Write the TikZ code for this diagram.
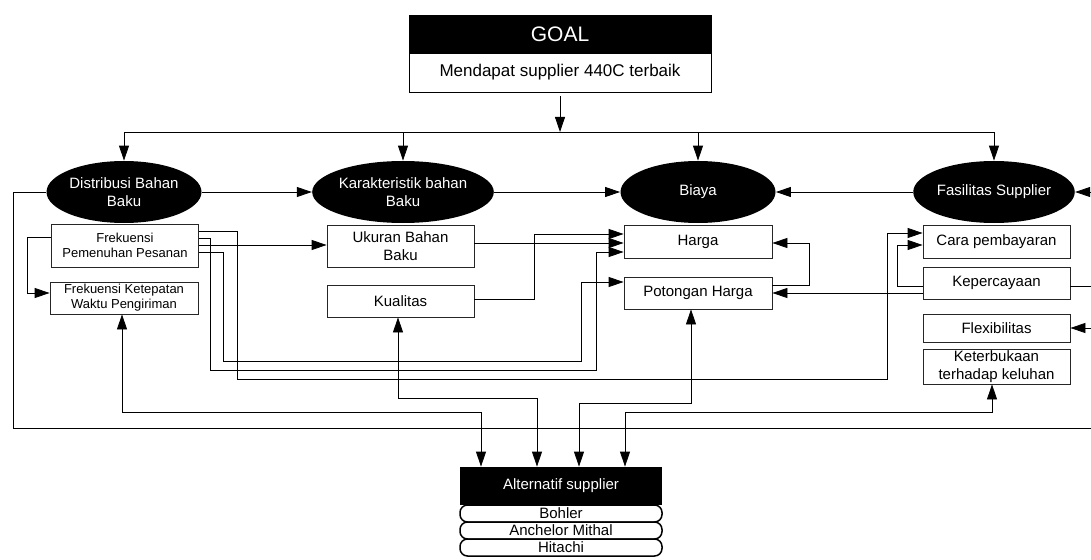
\documentclass[tikz,border=0pt]{standalone}
\usepackage{fontspec}
\setmainfont{Liberation Sans}
\usetikzlibrary{shapes.geometric,arrows.meta}

\begin{document}
\begin{tikzpicture}[x=1pt,y=-1pt,line width=0.8pt,
    >={Triangle[length=15pt,width=10pt]},
    kriteria/.style={ellipse,fill=black,text=white,minimum width=155pt,minimum height=62pt,inner sep=0pt,align=center,font=\fontsize{15}{18}\selectfont},
    subkriteria/.style={rectangle,draw=black!85,fill=white,minimum width=147pt,inner sep=0pt,align=center,font=\fontsize{15}{18}\selectfont},
    subkecil/.style={subkriteria,font=\fontsize{13}{15}\selectfont},
    alternatif/.style={rectangle,draw,line width=1.5pt,rounded corners=7.5pt,minimum width=202pt,minimum height=17pt,inner sep=0pt,font=\fontsize{15}{17}\selectfont}]
    \useasboundingbox (0,0) rectangle (1091,559);

    % Goal
    \node[rectangle,draw,fill=black,text=white,minimum width=302pt,minimum height=38pt,inner sep=0pt,font=\fontsize{21}{24}\selectfont] (goalhead) at (560,34) {GOAL};
    \node[rectangle,draw,minimum width=302pt,minimum height=39pt,inner sep=0pt,font=\fontsize{17}{20}\selectfont] (goalbody) at (560,72.5) {Mendapat supplier 440C terbaik};

    % Draw the criteria
    \node[kriteria] (distr) at (124,192) {Distribusi Bahan\\Baku};
    \node[kriteria] (karak) at (403,192) {Karakteristik bahan\\Baku};
    \node[kriteria] (biaya) at (698,192) {Biaya};
    \node[kriteria] (fasil) at (994,192) {Fasilitas Supplier};

    % Sub criteria
    \node[subkecil,minimum height=43pt] (pemenuhan) at (125,245.5) {Frekuensi\\Pemenuhan Pesanan};
    \node[subkecil,minimum width=148pt,minimum height=32pt] (ketepatan) at (124,298) {Frekuensi Ketepatan\\Waktu Pengiriman};
    \node[subkriteria,minimum height=42pt] (ukuran) at (400.5,246) {Ukuran Bahan\\Baku};
    \node[subkriteria,minimum height=32pt] (kualitas) at (400.5,301) {Kualitas};
    \node[subkriteria,minimum width=148pt,minimum height=33pt] (harga) at (698,241.5) {Harga};
    \node[subkriteria,minimum width=148pt,minimum height=32pt] (potongan) at (698,293) {Potongan Harga};
    \node[subkriteria,minimum height=33pt] (cara) at (996.5,241.5) {Cara pembayaran};
    \node[subkriteria,minimum height=32pt] (percaya) at (996.5,283) {Kepercayaan};
    \node[subkriteria,minimum height=28pt] (flexi) at (996.5,328) {Flexibilitas};
    \node[subkriteria,minimum height=35pt] (terbuka) at (996.5,366.5) {Keterbukaan\\terhadap keluhan};

    % Alternatives
    \node[rectangle,fill=black,text=white,minimum width=202pt,minimum height=38pt,inner sep=0pt,font=\fontsize{15}{18}\selectfont] (alt) at (561,486) {Alternatif supplier};
    \node[alternatif] (bohler) at (561,513.5) {Bohler};
    \node[alternatif] (anchelor) at (561,530.5) {Anchelor Mithal};
    \node[alternatif] (hitachi) at (561,547.5) {Hitachi};

    % Goal to criteria
    \coordinate (hub) at (goalbody.south |- 0,132);
    \draw[->] ([yshift=-4pt]goalbody.south) -- (hub);
    \draw (distr.north |- hub) -- (fasil.north |- hub);
    \foreach \k in {distr,karak,biaya,fasil}
        \draw[->] (\k.north |- hub) -- (\k.north);

    % Between criteria
    \draw[->] (distr.east) -- (karak.west);
    \draw[->] (karak.east) -- (biaya.west);
    \draw[->] (fasil.west) -- (biaya.east);

    % Outer loop
    \coordinate (edgetop) at (1094,192);
    \coordinate (edgemid) at (1094,286);
    \coordinate (edgelow) at (1094,328);
    \draw (distr.west) -| (13,428) -- (1094,428) -- (edgetop);
    \draw[->] (edgetop) -- (fasil.east);
    \draw[->] (edgelow) -- (flexi.east);
    \draw (percaya.east |- edgemid) -- (edgemid);

    % Links from Frekuensi Pemenuhan Pesanan
    \draw[->] (pemenuhan.west |- 0,237) -| (27,293) -- (ketepatan.west |- 0,293);
    \draw[->] (pemenuhan.east |- 0,245) -- (ukuran.west |- 0,245);
    \draw[->] (pemenuhan.east |- 0,231) -| (237,379) -| (887,233) -- (cara.west |- 0,233);
    \draw[->] (pemenuhan.east |- 0,238) -| (210,370) -| (596,252) -- (harga.west |- 0,252);
    \draw[->] (pemenuhan.east |- 0,252) -| (223,361) -| (581,282) -- (potongan.west |- 0,282);

    % Links into Harga and Potongan Harga
    \draw[->] (ukuran.east |- 0,243) -- (harga.west |- 0,243);
    \draw[->] (kualitas.east |- 0,299) -| (534,234) -- (harga.west |- 0,234);
    \draw[->] (potongan.east |- 0,285) -| (809,243) -- (harga.east |- 0,243);
    \draw[->] (percaya.west |- 0,293) -- (potongan.east |- 0,293);
    \draw[->] (percaya.west |- 0,286) -| (897,245) -- (cara.west |- 0,245);

    % Links to alternatives
    \draw[<->] (ketepatan.south -| 122,0) |- (481,412) -- (alt.north -| 481,0);
    \draw[<->] (kualitas.south -| 398,0) |- (537,398) -- (alt.north -| 537,0);
    \draw[<->] (potongan.south -| 691,0) |- (579,403) -- (alt.north -| 579,0);
    \draw[<->] (terbuka.south -| 992,0) |- (625,412) -- (alt.north -| 625,0);
\end{tikzpicture}
\end{document}
